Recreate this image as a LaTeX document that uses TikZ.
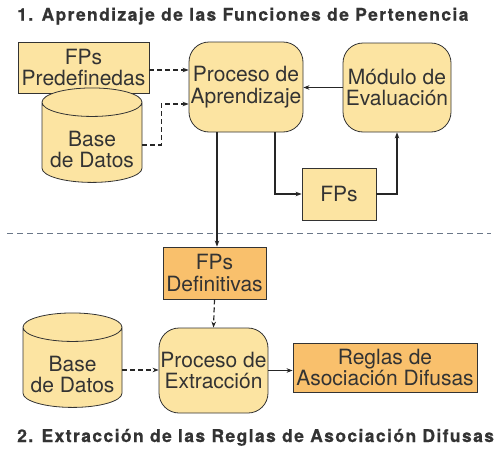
\documentclass[tikz,border=0pt]{standalone}
\usepackage{fontspec}
\setmainfont{TeX Gyre Heros}
\newfontfamily\titlefont[LetterSpace=8,FakeBold=0.6]{texgyreheros-bold.otf}
\usetikzlibrary{shapes.geometric,arrows.meta,calc}
\definecolor{lightyel}{HTML}{FCE4A2}
\definecolor{orangebox}{HTML}{F9C06C}
\definecolor{txtgray}{HTML}{333333}
\definecolor{sepcol}{HTML}{6A7788}
\begin{document}
\begin{tikzpicture}[x=1pt,y=-1pt,
  every node/.style={text=txtgray},
  lbl/.style={font=\fontsize{21}{21.5}\selectfont, align=center, inner sep=0pt},
  sqbox/.style={lbl, draw=black!80, line width=0.8pt, fill=lightyel},
  obox/.style={lbl, draw=black!80, line width=0.8pt, fill=orangebox},
  rbox/.style={lbl, draw=black!80, line width=0.8pt, fill=lightyel, rounded corners=20pt},
  dbase/.style={lbl, draw=black!80, line width=0.8pt, fill=lightyel, shape=cylinder, shape border rotate=90, aspect=0.34},
  ttl/.style={font=\titlefont\fontsize{17.5}{17.5}\selectfont, anchor=base west, inner sep=0pt},
  arr/.style={line width=1.2pt, draw=black!85, -{Stealth[length=6pt,width=4.5pt]}},
  darr/.style={arr, dash pattern=on 5pt off 3pt},
]
\useasboundingbox (0,0) rectangle (501,450);

\node[ttl] (t1) at (17,20.7) {1. Aprendizaje de las Funciones de Pertenencia};
\node[ttl] (t2) at (17,442) {2. Extracción de las Reglas de Asociación Difusas};

\node[sqbox, minimum width=131pt, minimum height=51pt] (pre) at (83.5,67.5) {FPs\\Predefinedas};
\node[rbox, minimum width=114pt, minimum height=90pt] (pa) at (246,87) {Proceso de\\Aprendizaje};
\node[rbox, minimum width=108pt, minimum height=89pt] (me) at (397,87.5) {Módulo de\\Evaluación};
\node[dbase, minimum width=100pt, minimum height=75pt] (db1) at (92,142.5) {\\[8pt]Base\\de Datos};
\node[sqbox, minimum width=74pt, minimum height=52pt] (fps) at (339,194) {FPs};

\node[obox, minimum width=103pt, minimum height=52pt] (defs) at (214.5,273) {FPs\\Definitivas};
\node[rbox, minimum width=109pt, minimum height=85pt] (pe) at (213.5,370.5) {Proceso de\\Extracción};
\node[dbase, minimum width=99pt, minimum height=75pt] (db2) at (72.5,367.5) {\\[8pt]Base\\de Datos};
\node[obox, minimum width=184pt, minimum height=49pt] (reg) at (385,367.5) {Reglas de\\Asociación Difusas};

\coordinate (s1) at (7,233);
\coordinate (s2) at (491,233);
\draw[sepcol, line width=1pt, dash pattern=on 6pt off 4pt] (s1) -- (s2);

\draw[darr] ([yshift=-2.5pt]pre.east) -- ([yshift=-2.5pt]pre.east -| pa.west);
\draw[darr] ([yshift=-2.5pt]db1.east) -- ++(19,0) |- ([yshift=-17pt]pa.west);
\draw[arr] (me.west) -- (me.west -| pa.east);
\draw[arr] ([xshift=29pt]pa.south) |- (fps.west);
\draw[arr] (fps.east) -| (me.south);
\draw[arr] ([xshift=-29pt]pa.south) -- ([xshift=-29pt]pa.south |- defs.north);
\draw[darr] (defs.south) -- (pe.north);
\draw[darr] ([yshift=-2.5pt]db2.east) -- ([yshift=-2.5pt]db2.east -| pe.west);
\draw[arr] (pe.east) -- (pe.east -| reg.west);
\end{tikzpicture}
\end{document}
